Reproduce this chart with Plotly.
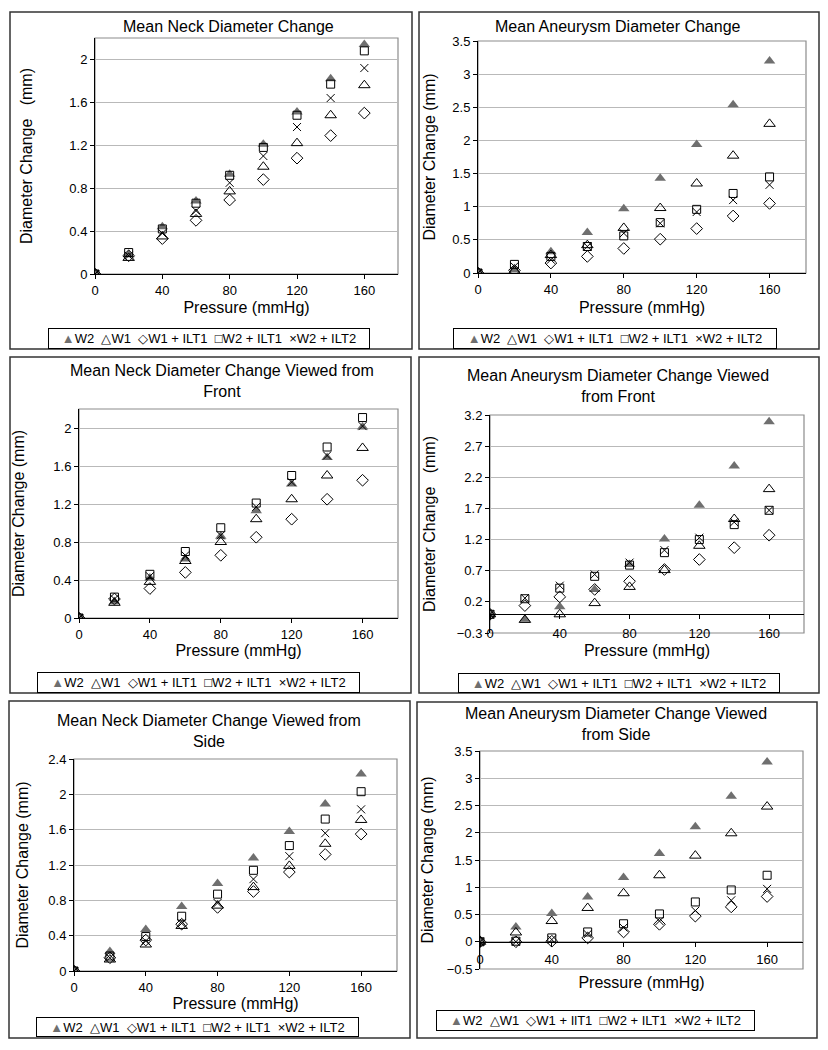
import plotly.graph_objects as go

# page offset: the browser page adds an 8px body margin
OFF = 8
W, H = 828 - OFF, 1050 - OFF

pressure = [0, 20, 40, 60, 80, 100, 120, 140, 160]
series_names = ["W2", "W1", "W1 + ILT1", "W2 + ILT1", "W2 + ILT2"]

# Panel 1: Mean Neck Diameter Change
neck_w2 = [0, 0.18, 0.44, 0.68, 0.93, 1.21, 1.51, 1.82, 2.14]
neck_w1 = [0, 0.15, 0.35, 0.56, 0.77, 1.00, 1.22, 1.48, 1.76]
neck_w1_ilt1 = [0, 0.17, 0.33, 0.50, 0.69, 0.88, 1.08, 1.29, 1.50]
neck_w2_ilt1 = [0, 0.20, 0.42, 0.66, 0.92, 1.18, 1.48, 1.77, 2.08]
neck_w2_ilt2 = [0, 0.17, 0.38, 0.59, 0.85, 1.10, 1.37, 1.64, 1.92]

# Panel 2: Mean Aneurysm Diameter Change
aneu_w2 = [0, 0.05, 0.32, 0.61, 0.97, 1.43, 1.94, 2.54, 3.20]
aneu_w1 = [0, 0.03, 0.27, 0.42, 0.68, 0.98, 1.35, 1.77, 2.25]
aneu_w1_ilt1 = [0, 0.04, 0.15, 0.25, 0.37, 0.51, 0.67, 0.86, 1.05]
aneu_w2_ilt1 = [0, 0.13, 0.25, 0.40, 0.56, 0.76, 0.96, 1.20, 1.45]
aneu_w2_ilt2 = [0, 0.10, 0.20, 0.40, 0.60, 0.75, 0.92, 1.10, 1.33]

# Panel 3: Mean Neck Diameter Change Viewed from Front
neckf_w2 = [0, 0.17, 0.42, 0.62, 0.86, 1.13, 1.41, 1.69, 2.01]
neckf_w1 = [0, 0.16, 0.38, 0.60, 0.80, 1.04, 1.25, 1.50, 1.79]
neckf_w1_ilt1 = [0, 0.20, 0.31, 0.48, 0.66, 0.85, 1.04, 1.25, 1.45]
neckf_w2_ilt1 = [0, 0.22, 0.46, 0.70, 0.95, 1.21, 1.50, 1.80, 2.11]
neckf_w2_ilt2 = [0, 0.20, 0.44, 0.66, 0.87, 1.17, 1.43, 1.71, 2.02]

# Panel 4: Mean Aneurysm Diameter Change Viewed from Front
aneuf_w2 = [0, -0.08, 0.12, 0.40, 0.80, 1.21, 1.75, 2.38, 3.09]
aneuf_w1 = [0, -0.09, 0.00, 0.18, 0.44, 0.71, 1.10, 1.53, 2.01]
aneuf_w1_ilt1 = [0, 0.14, 0.28, 0.40, 0.53, 0.72, 0.88, 1.07, 1.27]
aneuf_w2_ilt1 = [0, 0.25, 0.42, 0.61, 0.79, 0.99, 1.20, 1.44, 1.67]
aneuf_w2_ilt2 = [0, 0.26, 0.46, 0.64, 0.83, 1.03, 1.23, 1.48, 1.67]

# Panel 5: Mean Neck Diameter Change Viewed from Side
necks_w2 = [0, 0.22, 0.47, 0.73, 0.99, 1.28, 1.58, 1.89, 2.23]
necks_w1 = [0, 0.13, 0.30, 0.51, 0.74, 0.95, 1.19, 1.44, 1.71]
necks_w1_ilt1 = [0, 0.15, 0.35, 0.53, 0.72, 0.90, 1.12, 1.32, 1.55]
necks_w2_ilt1 = [0, 0.17, 0.39, 0.62, 0.87, 1.14, 1.42, 1.72, 2.03]
necks_w2_ilt2 = [0, 0.15, 0.34, 0.54, 0.77, 1.04, 1.30, 1.56, 1.83]

# Panel 6: Mean Aneurysm Diameter Change Viewed from Side
aneus_w2 = [0, 0.27, 0.52, 0.82, 1.18, 1.62, 2.11, 2.67, 3.30]
aneus_w1 = [0, 0.17, 0.38, 0.62, 0.89, 1.22, 1.58, 1.99, 2.48]
aneus_w1_ilt1 = [0, 0.00, 0.01, 0.07, 0.18, 0.32, 0.47, 0.64, 0.83]
aneus_w2_ilt1 = [0, 0.01, 0.07, 0.18, 0.33, 0.51, 0.73, 0.95, 1.22]
aneus_w2_ilt2 = [0, 0.00, 0.04, 0.14, 0.26, 0.38, 0.57, 0.76, 0.97]

titles = [
    "Mean Neck Diameter Change",
    "Mean Aneurysm Diameter Change",
    "Mean Neck Diameter Change Viewed from<br>Front",
    "Mean Aneurysm Diameter Change Viewed<br>from Front",
    "Mean Neck Diameter Change Viewed from<br>Side",
    "Mean Aneurysm Diameter Change Viewed<br>from Side",
]
ytitles = [
    "Diameter Change\u00a0\u00a0\u00a0(mm)",
    "Diameter Change (mm)",
    "Diameter Change (mm)",
    "Diameter Change\u00a0\u00a0\u00a0(mm)",
    "Diameter Change (mm)",
    "Diameter Change (mm)",
]
xtitle = "Pressure (mmHg)"
legend_last_label = ["W1 + ILT1"] * 5 + ["W1 + IlT1"]

panels_data = [
    [neck_w2, neck_w1, neck_w1_ilt1, neck_w2_ilt1, neck_w2_ilt2],
    [aneu_w2, aneu_w1, aneu_w1_ilt1, aneu_w2_ilt1, aneu_w2_ilt2],
    [neckf_w2, neckf_w1, neckf_w1_ilt1, neckf_w2_ilt1, neckf_w2_ilt2],
    [aneuf_w2, aneuf_w1, aneuf_w1_ilt1, aneuf_w2_ilt1, aneuf_w2_ilt2],
    [necks_w2, necks_w1, necks_w1_ilt1, necks_w2_ilt1, necks_w2_ilt2],
    [aneus_w2, aneus_w1, aneus_w1_ilt1, aneus_w2_ilt1, aneus_w2_ilt2],
]
y_ranges = [(0, 2.2, 0, 0.4), (0, 3.5, 0, 0.5), (0, 2.2, 0, 0.4),
            (-0.3, 3.2, -0.3, 0.5), (0, 2.4, 0, 0.4), (-0.5, 3.5, -0.5, 0.5)]
x_ticks = [0, 40, 80, 120, 160]

# ---- layout geometry (pixels in the 828x1050 page) ----
plot_px = [(95, 398, 38, 274), (478, 806, 41, 273), (79, 398, 409, 618),
           (490, 804, 415, 633), (74, 397, 759, 971), (480, 803, 751, 969)]
box_px = [(10, 412, 12, 349), (419, 819, 12, 349), (10, 411, 357, 693),
          (419, 819, 357, 693), (9, 410, 701, 1038), (417, 817, 702, 1038)]
title_px = [(228, 27), (618, 27), (222, 381), (618, 386), (209, 731), (616, 724)]
legend_px = [(48, 370, 328, 349), (453, 777, 328, 349), (37, 360, 672, 693),
             (458, 780, 673, 693), (36, 359, 1017, 1037), (436, 755, 1010, 1031)]
ytitle_standoff = [32, 12, 24, 17, 15, 9]
xtitle_standoff = [5, 6, 0, 4, 0, 10]
xlabel_standoff = [0, 0, 0, 3, 0, 2]

def px_x(v):
    return (v - OFF) / W

def px_y(v):
    return 1 - (v - OFF) / H

FONT = "Arial, Liberation Sans, sans-serif"
GRAY = "#6f6f6f"

styles = [
    dict(symbol="triangle-up", size=10, color=GRAY, line=dict(width=0)),
    dict(symbol="triangle-up-open", size=10, color="black", line=dict(width=1, color="black")),
    dict(symbol="diamond-open", size=9, color="black", line=dict(width=1, color="black")),
    dict(symbol="square-open", size=8, color="black", line=dict(width=1, color="black")),
    dict(symbol="x-thin-open", size=8, color="black", line=dict(width=1, color="black")),
]

fig = go.Figure()
layout = dict(
    width=W, height=H, margin=dict(l=0, r=0, t=0, b=0),
    paper_bgcolor="white", plot_bgcolor="white", showlegend=False,
    font=dict(family=FONT, color="black", size=13), template="none",
)
shapes = []
annotations = []

for i in range(6):
    n = i + 1
    xa = "x" if n == 1 else f"x{n}"
    ya = "y" if n == 1 else f"y{n}"
    xkey = "xaxis" if n == 1 else f"xaxis{n}"
    ykey = "yaxis" if n == 1 else f"yaxis{n}"
    for s in range(5):
        fig.add_trace(go.Scatter(
            x=pressure, y=panels_data[i][s], mode="markers",
            name=series_names[s], marker=styles[s], xaxis=xa, yaxis=ya,
        ))
    l, r, t, b = plot_px[i]
    ymin, ymax, y0, dy = y_ranges[i]
    xdom = [px_x(l), px_x(r)]
    ydom = [px_y(b), px_y(t)]
    xaxis = dict(
        domain=xdom, range=[0, 180], tickvals=x_ticks, showgrid=False,
        zeroline=False, showline=True, linecolor="black", linewidth=1,
        ticks="outside", ticklen=4, tickcolor="black",
        tickfont=dict(size=13, family=FONT),
        title=dict(text=xtitle, font=dict(size=16, family=FONT), standoff=xtitle_standoff[i]),
        automargin=False, ticklabelstandoff=xlabel_standoff[i],
    )
    if ymin < 0:
        frac = (0 - ymin) / (ymax - ymin)
        xaxis.update(anchor="free", position=ydom[0] + frac * (ydom[1] - ydom[0]))
    else:
        xaxis.update(anchor=ya)
    yaxis = dict(
        domain=ydom, range=[ymin, ymax], tick0=y0, dtick=dy,
        showgrid=True, gridcolor="#b9b9b9", gridwidth=1.2, zeroline=False,
        showline=True, linecolor="black", linewidth=1, anchor=xa,
        ticks="outside", ticklen=4, tickcolor="black",
        tickfont=dict(size=13, family=FONT),
        title=dict(text=ytitles[i], font=dict(size=16, family=FONT), standoff=ytitle_standoff[i]),
        automargin=False,
    )
    layout[xkey] = xaxis
    layout[ykey] = yaxis

    # plot-area border
    shapes.append(dict(type="rect", xref=f"{xa} domain", yref=f"{ya} domain",
                       x0=0, x1=1, y0=0, y1=1, line=dict(color="#8c8c8c", width=1.2),
                       layer="below"))
    # outer panel border
    bl, br, bt, bb = box_px[i]
    shapes.append(dict(type="rect", xref="paper", yref="paper",
                       x0=px_x(bl), x1=px_x(br), y0=px_y(bb), y1=px_y(bt),
                       line=dict(color="#333333", width=1.5)))
    # title
    tx, ty = title_px[i]
    annotations.append(dict(text=titles[i], xref="paper", yref="paper",
                            x=px_x(tx), y=px_y(ty), xanchor="center", yanchor="middle",
                            showarrow=False, font=dict(size=16, family=FONT, color="black")))
    # legend box
    ll, lr, lt, lb = legend_px[i]
    sp = "\u00a0"
    legend_text = (f'<span style="color:{GRAY}">▲</span>{series_names[0]}{sp*2}'
                   f'△{series_names[1]}{sp*2}'
                   f'◇{legend_last_label[i]}{sp*2}'
                   f'□{series_names[3]}{sp*2}'
                   f'×{series_names[4]}')
    annotations.append(dict(text=legend_text, xref="paper", yref="paper",
                            x=px_x((ll + lr) / 2), y=px_y((lt + lb) / 2),
                            xanchor="center", yanchor="middle", showarrow=False,
                            width=lr - ll - 6, height=lb - lt - 6, align="center",
                            bordercolor="black", borderwidth=1, borderpad=2, bgcolor="white",
                            font=dict(size=13, family=FONT, color="black")))

layout["shapes"] = shapes
layout["annotations"] = annotations
fig.update_layout(**layout)
fig.write_html("out.html")
